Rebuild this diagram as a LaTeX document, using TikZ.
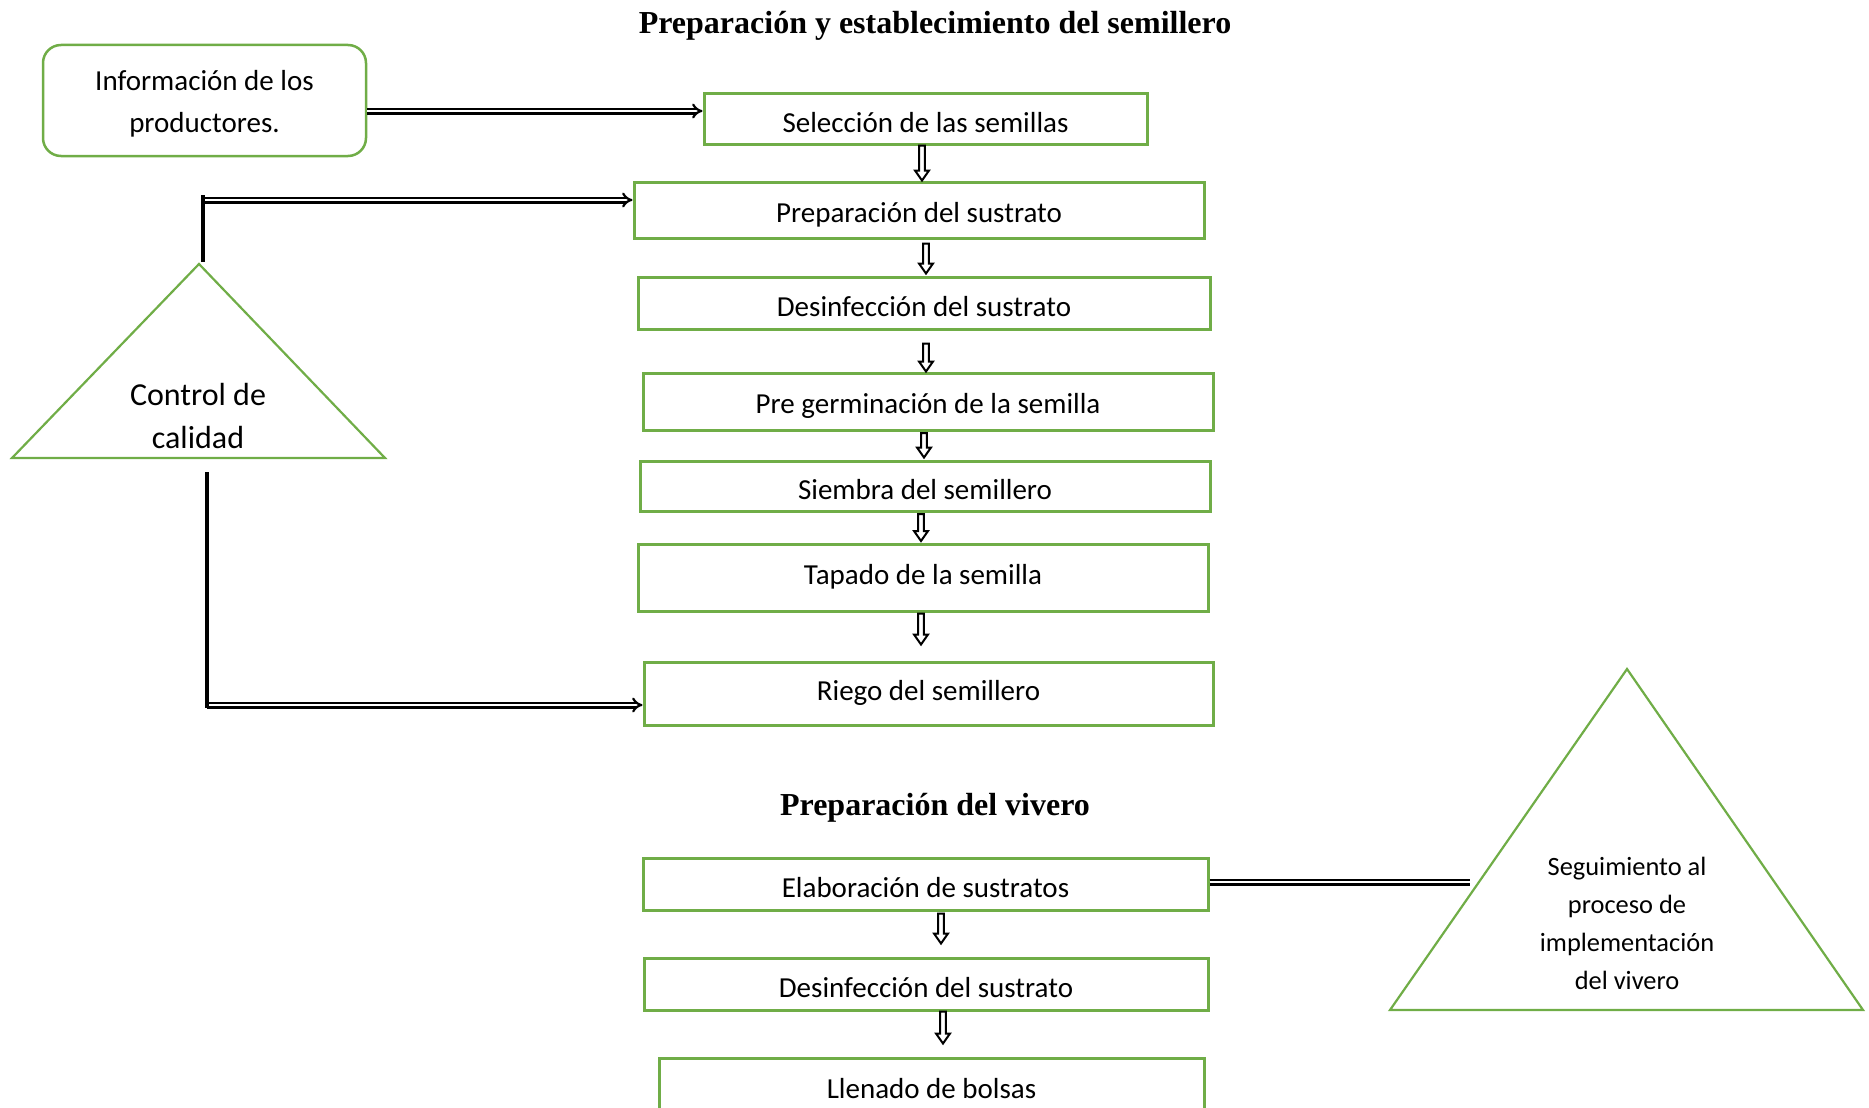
\documentclass[tikz,border=0pt]{standalone}
\usepackage{fontspec}
\setmainfont{Carlito}
\newfontfamily\titlefont{Liberation Serif}
\usetikzlibrary{calc,arrows.meta}
\definecolor{grn}{RGB}{112,173,71}
\begin{document}
\begin{tikzpicture}[x=1pt,y=1pt,
  box/.style={draw=grn, line width=3pt, inner sep=0pt, font=\fontsize{29}{42}\selectfont, text height=33.5pt, text depth=5.8pt},
  harrow/.style={double, double distance=2.6pt, line width=2.2pt, -{Implies}},
  hline/.style={double, double distance=2.6pt, line width=2.2pt},
  vline/.style={line width=4pt},
  tri/.style={draw=grn, line width=2.2pt, line join=miter},
  blockarr/.style={draw=black, fill=white, line width=2pt, line join=miter,
    to path={let \p1=(\tikztostart), \p2=(\tikztotarget) in
      (\x1-2.8pt,\y1) -- (\x1-2.8pt,\y2+10pt) -- (\x1-7pt,\y2+10pt) -- (\x1,\y2)
      -- (\x1+7pt,\y2+10pt) -- (\x1+2.8pt,\y2+10pt) -- (\x1+2.8pt,\y1) -- cycle}},
  title/.style={font=\titlefont\bfseries\fontsize{32}{38}\selectfont, anchor=base, inner sep=0pt}
]
\useasboundingbox (0,0) rectangle (1869,-1108);
\clip (0,0) rectangle (1869,-1108);

% titles
\node[title] (t1) at (935,-34) {Preparación y establecimiento del semillero};
\node[title] (t2) at (935,-815) {Preparación del vivero};

% info box
\node[draw=grn, line width=2.5pt, rounded corners=18pt, minimum width=323pt, minimum height=111pt,
  align=center, font=\fontsize{29}{42}\selectfont] (info) at (204.5,-100.5) {\rule{0pt}{27pt}Información de los\\productores.};

% main boxes
\node[box, minimum width=443pt, minimum height=51pt] (sel) at (925.5,-118.5) {Selección de las semillas};
\node[box, minimum width=570pt, minimum height=56pt, text height=31.5pt] (prep) at (919,-210) {Preparación del sustrato};
\node[box, minimum width=572pt, minimum height=52pt] (des) at (924,-303) {Desinfección del sustrato};
\node[box, minimum width=570pt, minimum height=57pt, text height=29.5pt] (pre) at (928,-401.5) {Pre germinación de la semilla};
\node[box, minimum width=570pt, minimum height=50pt] (siem) at (925,-486) {Siembra del semillero};
\node[box, minimum width=570pt, minimum height=67pt, text height=19pt] (tap) at (923,-577.5) {Tapado de la semilla};
\node[box, minimum width=569pt, minimum height=63pt, text height=19.5pt] (riego) at (928.5,-693.5) {Riego del semillero};

\node[box, minimum width=565pt, minimum height=52pt] (elab) at (925.5,-884) {Elaboración de sustratos};
\node[box, minimum width=564pt, minimum height=52pt] (des2) at (926,-984) {Desinfección del sustrato};
\node[box, minimum width=545pt, minimum height=60pt, text height=27.5pt] (llen) at (931.5,-1088) {Llenado de bolsas};

% triangles
\coordinate (capex) at (199,-264);
\coordinate (cbl) at (12,-458);
\coordinate (cbr) at (385,-458);
\draw[tri] (capex) -- (cbr) -- (cbl) -- cycle;
\node[align=center, font=\fontsize{32}{43}\selectfont] (ctrl) at (198,-416) {Control de\\calidad};

\coordinate (sapex) at (1627,-669);
\coordinate (sbl) at (1390,-1010);
\coordinate (sbr) at (1863,-1010);
\draw[tri] (sapex) -- (sbr) -- (sbl) -- cycle;
\node[align=center, font=\fontsize{26.4}{38}\selectfont] (seg) at (1627,-923.5) {Seguimiento al\\proceso de\\implementación\\del vivero};

% horizontal connectors
\coordinate (a1) at ($(info.east)+(0,-10.5)$);
\draw[harrow] (a1) -- (a1 -| sel.west);

\coordinate (c2) at (203,-200);
\draw[harrow] (c2) -- (c2 -| prep.west);
\coordinate (ct) at (203,-195);
\coordinate (cb) at (203,-262);
\draw[vline] (cb) -- (ct);

\coordinate (c3) at (207,-705);
\draw[harrow] (c3) -- (c3 -| riego.west);
\coordinate (cb2) at (207,-472);
\coordinate (cb3) at (207,-708);
\draw[vline] (cb2) -- (cb3);

\coordinate (e1) at ($(elab.east)+(0,2)$);
\coordinate (e2) at (1470,-882);
\draw[hline] (e1) -- (e2);

% vertical block arrows
\draw[blockarr] ($(sel.south)+(-3.5,0)$) to (prep.north);
\draw[blockarr] ($(prep.south)+(7,-4)$) to ($(des.north)+(0,2)$);
\draw[blockarr] ($(des.south)+(2,-13)$) to (pre.north);
\draw[blockarr] ($(pre.south)+(-4,-1.5)$) to ($(siem.north)+(0,2)$);
\draw[blockarr] ($(siem.south)+(-4,-1.5)$) to ($(tap.north)+(0,1.5)$);
\draw[blockarr] ($(tap.south)+(-2,-1)$) to ($(riego.north)+(0,16)$);
\draw[blockarr] ($(elab.south)+(15.5,-2)$) to ($(des2.north)+(0,13)$);
\draw[blockarr] ($(des2.south)+(17,0)$) to ($(llen.north)+(0,13)$);
\end{tikzpicture}
\end{document}
